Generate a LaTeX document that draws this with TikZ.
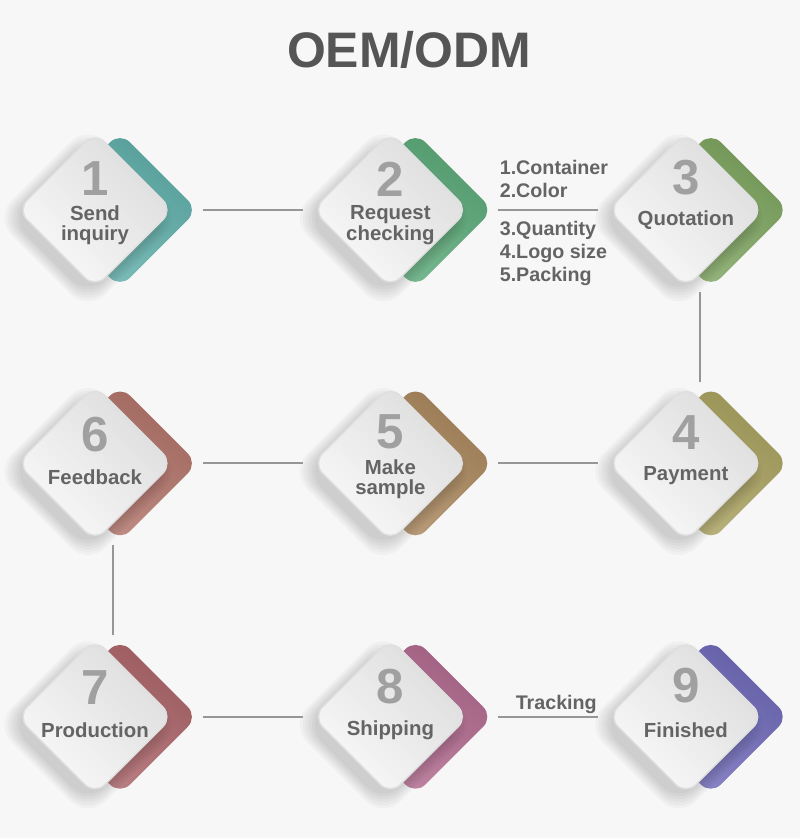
\documentclass[tikz,border=0pt]{standalone}
\usepackage{fontspec}
\setmainfont{Liberation Sans}
\usepackage{xcolor}
\usepackage{tikz}
\usetikzlibrary{shapes.geometric, positioning, calc}
\definecolor{pagebg}{RGB}{247, 247, 247}
\definecolor{titlegray}{RGB}{85, 85, 85}
\definecolor{numgray}{RGB}{160, 160, 160}
\definecolor{textgray}{RGB}{100, 100, 100}
\definecolor{linegray}{RGB}{150, 150, 150}
\definecolor{tabteal}{RGB}{95, 175, 170}
\definecolor{tabgreen}{RGB}{90, 170, 120}
\definecolor{tableaf}{RGB}{125, 165, 95}
\definecolor{tabkhaki}{RGB}{170, 162, 95}
\definecolor{tabtan}{RGB}{170, 135, 92}
\definecolor{tabbrick}{RGB}{178, 115, 105}
\definecolor{tabrose}{RGB}{172, 100, 105}
\definecolor{tabmauve}{RGB}{178, 105, 142}
\definecolor{tabviolet}{RGB}{110, 105, 185}
\tikzset{
  font=\bfseries,
  node distance=0.96cm and 1.38cm,
  tabblock/.style={
    diamond, rounded corners=4pt, inner sep=0pt,
    minimum width=1.56cm, minimum height=1.56cm,
    top color=#1!90!black, bottom color=#1!80!white, shading angle=-35
  },
  tileblock/.style={
    diamond, rounded corners=4pt, inner sep=0pt,
    minimum width=1.56cm, minimum height=1.56cm,
    draw=white!75!gray, line width=0.4pt,
    top color=gray!27, bottom color=gray!5, shading angle=-45
  },
  shadeblock/.style={
    diamond, rounded corners=7pt, inner sep=0pt,
    minimum width=#1, minimum height=#1,
    fill=black, fill opacity=0.028
  },
  titletext/.style={text=titlegray, font=\fontsize{14.2}{14}\selectfont\bfseries},
  numtext/.style={text=numgray, font=\fontsize{14}{14}\selectfont\bfseries},
  steptext/.style={text=textgray, align=center, inner sep=0pt,
    font=\fontsize{5.8}{5.8}\selectfont\bfseries},
  notetext/.style={text=textgray, align=left, inner sep=0pt,
    font=\fontsize{5.6}{6.5}\selectfont\bfseries},
  flowline/.style={draw=linegray, line width=0.6pt,
    shorten <=0.04cm, shorten >=0.09cm},
  dropline/.style={draw=linegray, line width=0.6pt,
    shorten <=0.03cm, shorten >=0.03cm}
}

\begin{document}
\begin{tikzpicture}

  \fill[pagebg] (0,0) rectangle (8,-8.38);
  \useasboundingbox (0,0) rectangle (8,-8.38);

  \node[titletext] (title) at (4.09,-0.50) {OEM/ODM};

  % Coloured tabs behind the tiles (serpentine grid)
  \node[tabblock=tabteal] (c1) at (1.20,-2.10) {};
  \node[tabblock=tabgreen, right=of c1] (c2) {};
  \node[tabblock=tableaf, right=of c2] (c3) {};
  \node[tabblock=tabkhaki, below=of c3] (c4) {};
  \node[tabblock=tabtan, left=of c4] (c5) {};
  \node[tabblock=tabbrick, left=of c5] (c6) {};
  \node[tabblock=tabrose, below=of c6] (c7) {};
  \node[tabblock=tabmauve, right=of c7] (c8) {};
  \node[tabblock=tabviolet, right=of c8] (c9) {};

  % Soft shadows, lower left of every tile
  \foreach \k in {1,...,9} {
    \foreach \s [count=\j] in {1.88,1.82,1.76,1.70,1.64,1.58} {
      \node[shadeblock=\s cm] (sh\k-\j) at ([xshift=-0.32cm, yshift=-0.08cm]c\k.center) {};
    }
  }

  % Grey tiles
  \node[tileblock] (g1) at ([xshift=-0.25cm]c1.center) {};
  \node[tileblock] (g2) at ([xshift=-0.25cm]c2.center) {};
  \node[tileblock] (g3) at ([xshift=-0.25cm]c3.center) {};
  \node[tileblock] (g4) at ([xshift=-0.25cm]c4.center) {};
  \node[tileblock] (g5) at ([xshift=-0.25cm]c5.center) {};
  \node[tileblock] (g6) at ([xshift=-0.25cm]c6.center) {};
  \node[tileblock] (g7) at ([xshift=-0.25cm]c7.center) {};
  \node[tileblock] (g8) at ([xshift=-0.25cm]c8.center) {};
  \node[tileblock] (g9) at ([xshift=-0.25cm]c9.center) {};

  % Numbers and step names
  \node[numtext] (n1) at ([yshift=0.31cm]g1.center) {1};
  \node[steptext] (s1) at ([yshift=-0.15cm]g1.center) {Send\\inquiry};
  \node[numtext] (n2) at ([yshift=0.31cm]g2.center) {2};
  \node[steptext] (s2) at ([yshift=-0.15cm]g2.center) {Request\\checking};
  \node[numtext] (n3) at ([yshift=0.32cm]g3.center) {3};
  \node[steptext] (s3) at ([yshift=-0.10cm]g3.center) {Quotation};
  \node[numtext] (n4) at ([yshift=0.31cm]g4.center) {4};
  \node[steptext] (s4) at ([yshift=-0.12cm]g4.center) {Payment};
  \node[numtext] (n5) at ([yshift=0.32cm]g5.center) {5};
  \node[steptext] (s5) at ([yshift=-0.16cm]g5.center) {Make\\sample};
  \node[numtext] (n6) at ([yshift=0.29cm]g6.center) {6};
  \node[steptext] (s6) at ([yshift=-0.14cm]g6.center) {Feedback};
  \node[numtext] (n7) at ([yshift=0.29cm]g7.center) {7};
  \node[steptext] (s7) at ([yshift=-0.13cm]g7.center) {Production};
  \node[numtext] (n8) at ([yshift=0.30cm]g8.center) {8};
  \node[steptext] (s8) at ([yshift=-0.13cm]g8.center) {Shipping};
  \node[numtext] (n9) at ([yshift=0.31cm]g9.center) {9};
  \node[steptext] (s9) at ([yshift=-0.13cm]g9.center) {Finished};

  % Request checking details
  \node[notetext, anchor=south west] (details1) at ([xshift=0.05cm, yshift=0.12cm]c2.east) {1.Container\\2.Color};
  \node[notetext, anchor=north west] (details2) at ([xshift=0.05cm, yshift=-0.11cm]c2.east) {3.Quantity\\4.Logo size\\5.Packing};

  % Connectors
  \draw[flowline] (c1.east) -- (g2.west);
  \draw[flowline] (c2.east) -- (g3.west);
  \draw[dropline] ([xshift=0.14cm]g3.south) -- ([xshift=0.14cm]g4.north);
  \draw[flowline] (c5.east) -- (g4.west);
  \draw[flowline] (c6.east) -- (g5.west);
  \draw[dropline] ([xshift=0.18cm]g6.south) -- ([xshift=0.18cm]g7.north);
  \draw[flowline] (c7.east) -- (g8.west);
  \draw[flowline] (c8.east) -- node[pos=0.55, above, inner sep=0.7pt, text=textgray, font=\fontsize{5.6}{5.6}\selectfont\bfseries] (track) {Tracking} (g9.west);

\end{tikzpicture}
\end{document}
